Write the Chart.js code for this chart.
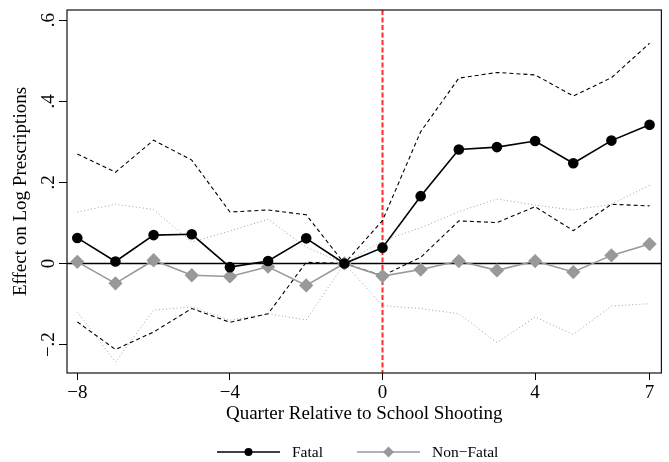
<!DOCTYPE html>
<html>
<head>
<meta charset="utf-8">
<script src="https://cdn.jsdelivr.net/npm/chart.js@4.4.1/dist/chart.umd.min.js"></script>
<style>
  html, body { margin: 0; padding: 0; background: #fff; }
  #wrap { width: 669px; height: 462px; }
</style>
</head>
<body>
<div id="wrap"><canvas id="eventChart" width="669" height="462"></canvas></div>
<script>
// Données
const quarters = [-8, -7, -6, -5, -4, -3, -2, -1, 0, 1, 2, 3, 4, 5, 6, 7];
const fatal      = [0.063, 0.005, 0.070, 0.072, -0.009, 0.006, 0.062, 0, 0.039, 0.166, 0.281, 0.287, 0.302, 0.247, 0.303, 0.342];
const fatalHi    = [0.270, 0.225, 0.304, 0.255, 0.127, 0.132, 0.120, 0, 0.106, 0.325, 0.457, 0.471, 0.465, 0.413, 0.458, 0.543];
const fatalLo    = [-0.144, -0.212, -0.169, -0.111, -0.145, -0.124, 0.003, 0, -0.030, 0.015, 0.105, 0.101, 0.140, 0.081, 0.146, 0.142];
const nonFatal   = [0.004, -0.049, 0.008, -0.029, -0.032, -0.008, -0.054, 0, -0.031, -0.015, 0.006, -0.017, 0.006, -0.021, 0.020, 0.048];
const nonFatalHi = [0.127, 0.146, 0.133, 0.053, 0.080, 0.109, 0.040, 0, 0.056, 0.088, 0.128, 0.159, 0.144, 0.132, 0.146, 0.193];
const nonFatalLo = [-0.119, -0.243, -0.115, -0.107, -0.140, -0.124, -0.139, 0, -0.104, -0.111, -0.124, -0.195, -0.132, -0.175, -0.105, -0.099];
const xTicks = [-8, -4, 0, 4, 7];
const yTicks = [-0.2, 0, 0.2, 0.4, 0.6];

const FONT = "'Liberation Serif', 'Times New Roman', serif";
const GRAY = '#999999';

const pts = arr => quarters.map((q, i) => ({ x: q, y: arr[i] }));
const minus = s => s.replace('-', '\u2212');

// Lignes de référence (0 horizontal, trait rouge vertical) + cadre
const refLines = {
    id: 'refLines',
    beforeDatasetsDraw(c) {
        const { ctx, chartArea: a, scales: { x, y } } = c;
        ctx.save();
        const y0 = y.getPixelForValue(0);
        ctx.strokeStyle = '#000';
        ctx.lineWidth = 1.5;
        ctx.beginPath(); ctx.moveTo(a.left, y0); ctx.lineTo(a.right, y0); ctx.stroke();
        const x0 = x.getPixelForValue(0);
        ctx.strokeStyle = '#ff2a2a';
        ctx.lineWidth = 2;
        ctx.setLineDash([5, 2.5]);
        ctx.beginPath(); ctx.moveTo(x0, a.top); ctx.lineTo(x0, a.bottom); ctx.stroke();
        ctx.restore();
    },
    afterDraw(c) {
        const { ctx, chartArea: a } = c;
        ctx.save();
        ctx.strokeStyle = '#111';
        ctx.lineWidth = 1.2;
        ctx.strokeRect(a.left, a.top, a.right - a.left, a.bottom - a.top);
        ctx.restore();
    }
};

// Légende dessinée à la main (trait + marqueur)
const lineLegend = {
    id: 'lineLegend',
    afterDraw(c) {
        const { ctx } = c;
        const items = [
            { ds: c.data.datasets[0], x: 217, tx: 292 },
            { ds: c.data.datasets[1], x: 357, tx: 432 }
        ];
        const yy = 452;
        ctx.save();
        items.forEach(it => {
            ctx.strokeStyle = it.ds.borderColor;
            ctx.lineWidth = it.ds.borderWidth;
            ctx.beginPath(); ctx.moveTo(it.x, yy); ctx.lineTo(it.x + 63, yy); ctx.stroke();
            ctx.fillStyle = it.ds.pointBackgroundColor;
            const cx = it.x + 31.5;
            ctx.beginPath();
            if (it.ds.pointStyle === 'rectRot') {
                const r = 5.5;
                ctx.moveTo(cx, yy - r); ctx.lineTo(cx + r, yy); ctx.lineTo(cx, yy + r); ctx.lineTo(cx - r, yy);
                ctx.closePath();
            } else {
                ctx.arc(cx, yy, 4, 0, Math.PI * 2);
            }
            ctx.fill();
            ctx.fillStyle = '#000';
            ctx.font = '15.5px ' + FONT;
            ctx.textBaseline = 'middle';
            ctx.fillText(it.ds.label, it.tx, yy + 1);
        });
        ctx.restore();
    }
};

const ctx = document.getElementById('eventChart').getContext('2d');
const chart = new Chart(ctx, {
    type: 'line',
    data: {
        datasets: [
            {
                label: 'Fatal',
                data: pts(fatal),
                borderColor: '#000',
                pointBackgroundColor: '#000',
                pointBorderColor: '#000',
                borderWidth: 1.6,
                pointRadius: 4.5,
                pointStyle: 'circle'
            },
            {
                label: 'Non\u2212Fatal',
                data: pts(nonFatal),
                borderColor: GRAY,
                pointBackgroundColor: GRAY,
                pointBorderColor: GRAY,
                borderWidth: 1.6,
                pointRadius: 6,
                pointStyle: 'rectRot'
            },
            {
                label: 'Fatal haut',
                data: pts(fatalHi),
                borderColor: '#000',
                borderWidth: 1.1,
                borderDash: [4, 3],
                pointRadius: 0
            },
            {
                label: 'Fatal bas',
                data: pts(fatalLo),
                borderColor: '#000',
                borderWidth: 1.1,
                borderDash: [4, 3],
                pointRadius: 0
            },
            {
                label: 'Non-Fatal haut',
                data: pts(nonFatalHi),
                borderColor: '#a0a0a0',
                borderWidth: 1,
                borderDash: [1, 2.5],
                pointRadius: 0
            },
            {
                label: 'Non-Fatal bas',
                data: pts(nonFatalLo),
                borderColor: '#a0a0a0',
                borderWidth: 1,
                borderDash: [1, 2.5],
                pointRadius: 0
            }
        ]
    },
    options: {
        responsive: false,
        animation: false,
        devicePixelRatio: 1,
        layout: { padding: { top: 10, right: 7, left: 0, bottom: 35 } },
        plugins: {
            legend: { display: false },
            tooltip: { enabled: false }
        },
        scales: {
            x: {
                type: 'linear',
                min: -8.27,
                max: 7.31,
                afterBuildTicks: s => { s.ticks = xTicks.map(v => ({ value: v })); },
                afterFit: s => { s.height = 54; },
                border: { display: false },
                grid: { drawOnChartArea: false, drawTicks: true, tickLength: 7, color: '#000', tickColor: '#000' },
                ticks: {
                    color: '#000',
                    padding: 2,
                    maxRotation: 0,
                    font: { family: FONT, size: 19 },
                    callback: v => minus(String(v))
                },
                title: {
                    display: true,
                    text: 'Quarter Relative to School Shooting',
                    color: '#000',
                    font: { family: FONT, size: 19 },
                    padding: { top: 0, bottom: 2 }
                }
            },
            y: {
                min: -0.27,
                max: 0.625,
                afterBuildTicks: s => { s.ticks = yTicks.map(v => ({ value: v })); },
                afterFit: s => { s.width = 67; },
                border: { display: false },
                grid: { drawOnChartArea: false, drawTicks: true, tickLength: 8, color: '#000', tickColor: '#000' },
                ticks: {
                    color: '#000',
                    padding: -2,
                    minRotation: 90,
                    maxRotation: 90,
                    crossAlign: 'center',
                    font: { family: FONT, size: 19 },
                    callback: v => v === 0 ? '0' : minus(String(Math.round(v * 10) / 10).replace('0.', '.'))
                },
                title: {
                    display: true,
                    text: 'Effect on Log Prescriptions',
                    color: '#000',
                    font: { family: FONT, size: 19 },
                    padding: { top: 10, bottom: 0 }
                }
            }
        }
    },
    plugins: [refLines, lineLegend]
});
</script>
</body>
</html>
